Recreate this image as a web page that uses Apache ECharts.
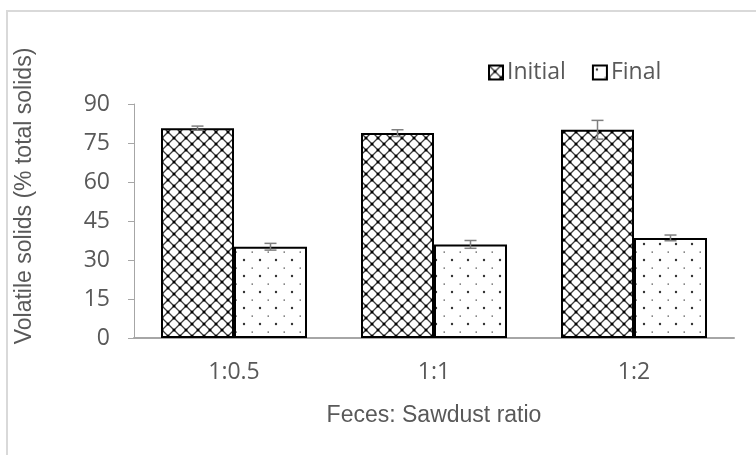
<!DOCTYPE html>
<html>
<head>
<meta charset="utf-8">
<script src="https://cdn.jsdelivr.net/npm/echarts@6/dist/echarts.min.js"></script>
<style>
  html, body { margin: 0; padding: 0; background: #fff; }
  #chart { width: 756px; height: 455px; }
</style>
</head>
<body>
<div id="chart"></div>
<script>
// Volatile solids before and after composting, by feces:sawdust ratio
var categories = ['1:0.5', '1:1', '1:2'];
var initialValues = [80.7, 78.8, 80.1];
var finalValues = [35.1, 36.0, 38.5];
var initialErrors = [0.8, 1.3, 3.6];
var finalErrors = [1.3, 1.5, 1.1];
var yTicks = { min: 0, max: 90, step: 15 };

// Diamond lattice fill (diagonal cross-hatch with dark knots)
function makeDiamondPattern() {
  var s = 12;
  var c = document.createElement('canvas');
  c.width = s; c.height = s;
  var g = c.getContext('2d');
  g.fillStyle = '#fff';
  g.fillRect(0, 0, s, s);
  g.strokeStyle = '#3a3a3a';
  g.lineWidth = 1.3;
  g.beginPath();
  g.moveTo(0, 0); g.lineTo(s, s);
  g.moveTo(s, 0); g.lineTo(0, s);
  g.stroke();
  g.fillStyle = '#000';
  [[0, 0], [s, 0], [0, s], [s, s], [s / 2, s / 2]].forEach(function (p) {
    g.beginPath();
    g.arc(p[0], p[1], 1.5, 0, Math.PI * 2);
    g.fill();
  });
  return c;
}

// Sparse dotted fill
function makeDotPattern() {
  var c = document.createElement('canvas');
  c.width = 16; c.height = 16;
  var g = c.getContext('2d');
  g.fillStyle = '#fff';
  g.fillRect(0, 0, 16, 16);
  g.fillStyle = '#333';
  g.beginPath();
  g.arc(4, 4, 1.2, 0, Math.PI * 2);
  g.fill();
  g.fillStyle = '#555';
  g.fillRect(11.5, 11.5, 1.5, 1.2);
  return c;
}

var diamondFill = { image: makeDiamondPattern(), repeat: 'repeat' };
var dotFill = { image: makeDotPattern(), repeat: 'repeat' };

var GAP = 0.27; // category gap fraction

function errorBarRenderer(side) {
  return function (params, api) {
    var idx = api.value(0);
    var val = api.value(1);
    var err = api.value(2);
    var band = api.size([1, 0])[0];
    var barW = band * (1 - GAP) / 2;
    var top = api.coord([idx, val + err]);
    var bot = api.coord([idx, val - err]);
    var x = top[0] + side * barW / 2;
    var cap = 6;
    var st = { stroke: '#7f7f7f', lineWidth: 1.5 };
    return {
      type: 'group',
      children: [
        { type: 'line', shape: { x1: x, y1: top[1], x2: x, y2: bot[1] }, style: st },
        { type: 'line', shape: { x1: x - cap, y1: top[1], x2: x + cap, y2: top[1] }, style: st },
        { type: 'line', shape: { x1: x - cap, y1: bot[1], x2: x + cap, y2: bot[1] }, style: st }
      ]
    };
  };
}

var chart = echarts.init(document.getElementById('chart'), null, { renderer: 'canvas' });

var labelFont = '"Open Sans", sans-serif';
var titleFont = '"Liberation Sans", Arial, sans-serif';

chart.setOption({
  backgroundColor: '#fff',
  animation: false,
  grid: { left: 134, right: 22, top: 104, bottom: 117 },
  graphic: [
    {
      type: 'rect',
      shape: { x: 7, y: 11, width: 780, height: 480 },
      style: { fill: 'none', stroke: '#d9d9d9', lineWidth: 2 },
      silent: true
    },
    {
      type: 'text',
      x: 25, y: 196,
      rotation: Math.PI / 2,
      style: {
        text: 'Volatile solids (% total solids)',
        font: '23px ' + titleFont,
        fill: '#595959',
        align: 'center',
        verticalAlign: 'middle'
      }
    }
  ],
  legend: {
    left: 483, top: 56,
    itemWidth: 14, itemHeight: 14,
    itemGap: 26,
    icon: 'rect',
    textStyle: { fontFamily: labelFont, fontSize: 23, color: '#595959', padding: [0, 0, 0, -1] },
    itemStyle: { borderColor: '#000', borderWidth: 2 },
    data: ['Initial', 'Final']
  },
  xAxis: {
    type: 'category',
    data: categories,
    axisLine: { lineStyle: { color: '#a6a6a6', width: 2 } },
    axisTick: { show: false },
    axisLabel: { fontFamily: labelFont, fontSize: 23, color: '#595959', margin: 23 },
    name: 'Feces: Sawdust ratio',
    nameLocation: 'middle',
    nameGap: 66,
    nameTextStyle: { fontFamily: titleFont, fontSize: 23, color: '#595959' }
  },
  yAxis: {
    type: 'value',
    min: yTicks.min, max: yTicks.max, interval: yTicks.step,
    splitLine: { show: false },
    axisLine: { show: true, lineStyle: { color: '#a6a6a6', width: 1 } },
    axisTick: { show: true, length: 6, lineStyle: { color: '#a6a6a6' } },
    axisLabel: { fontFamily: labelFont, fontSize: 23, color: '#595959', margin: 24 }
  },
  series: [
    {
      name: 'Initial',
      type: 'bar',
      data: initialValues,
      barGap: '0%',
      barCategoryGap: (GAP * 100) + '%',
      itemStyle: { color: diamondFill, borderColor: '#000', borderWidth: 2 }
    },
    {
      name: 'Final',
      type: 'bar',
      data: finalValues,
      itemStyle: { color: dotFill, borderColor: '#000', borderWidth: 2 }
    },
    {
      type: 'custom',
      z: 5,
      renderItem: errorBarRenderer(-1),
      data: initialValues.map(function (v, i) { return [i, v, initialErrors[i]]; })
    },
    {
      type: 'custom',
      z: 5,
      renderItem: errorBarRenderer(1),
      data: finalValues.map(function (v, i) { return [i, v, finalErrors[i]]; })
    }
  ]
});
</script>
</body>
</html>
